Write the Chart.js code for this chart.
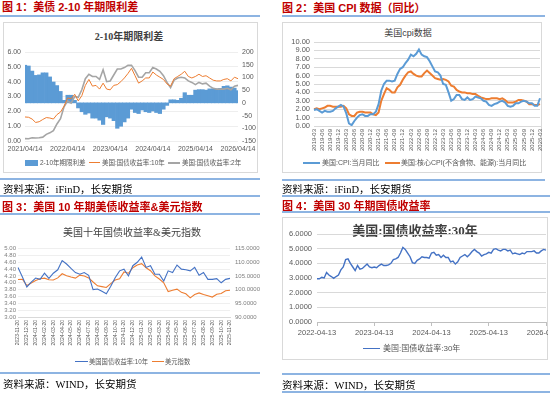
<!DOCTYPE html>
<html>
<head>
<meta charset="utf-8">
<script src="https://cdn.jsdelivr.net/npm/chart.js@4.4.1/dist/chart.umd.min.js"></script>
<style>
  body { margin: 0; width: 550px; height: 395px; position: relative; overflow: hidden; background: #fff;
         font-family: "Liberation Sans", "Noto Sans CJK SC", sans-serif; }
  .abs { position: absolute; white-space: nowrap; }
  .hd { color: #c00000; font-weight: bold; font-size: 11px; line-height: 13px; }
  .rule { height: 2px; background: #8db4e2; }
  .src { font-family: "Liberation Serif", "Noto Sans CJK SC", serif; font-size: 10.5px; line-height: 12px; color: #000; }
  .box { border: 1px solid #d9d9d9; box-sizing: border-box; }
  .ttl { color: #404040; transform: translateX(-50%); line-height: 12px; }
  .lg { color: #595959; line-height: 8px; }
  .sw { position: absolute; }
  canvas { position: absolute; }
</style>
</head>
<body>

<!-- 图1 -->
<div class="abs hd" style="left:2px;top:1px">图 1：美债 2-10 年期限利差</div>
<div class="abs rule" style="left:0;top:15px;width:260px"></div>
<div class="abs box" style="left:3px;top:22px;width:255px;height:151px"></div>
<div class="abs ttl" style="left:129px;top:31px;font-size:10px;font-weight:bold;font-family:'Liberation Serif','Noto Sans CJK SC',serif">2-10年期限利差</div>
<canvas id="c1" width="255" height="151" style="left:3px;top:22px"></canvas>
<div class="sw" style="left:25px;top:160px;width:13px;height:6px;background:#5b9bd5"></div>
<div class="abs lg" style="left:40px;top:159px;font-size:6.5px">2-10年期限利差</div>
<div class="sw" style="left:89px;top:162px;width:11px;height:1px;background:#ed7d31"></div>
<div class="abs lg" style="left:102px;top:159px;font-size:6.5px">美国:国债收益率:10年</div>
<div class="sw" style="left:168px;top:162px;width:12px;height:2px;background:#a5a5a5"></div>
<div class="abs lg" style="left:182px;top:159px;font-size:6.5px">美国:国债收益率:2年</div>
<div class="abs rule" style="left:0;top:178px;width:260px"></div>
<div class="abs src" style="left:3px;top:184px">资料来源：iFinD，长安期货</div>
<div class="abs rule" style="left:0;top:195px;width:260px"></div>

<!-- 图3 -->
<div class="abs hd" style="left:2px;top:201px">图 3：美国 10 年期美债收益率&amp;美元指数</div>
<div class="abs rule" style="left:0;top:213px;width:260px"></div>
<div class="abs ttl" style="left:132px;top:227px;font-size:10px;font-family:'Liberation Serif','Noto Sans CJK SC',serif">美国十年国债收益率&amp;美元指数</div>
<canvas id="c3" width="262" height="110" style="left:0;top:240px"></canvas>
<div class="sw" style="left:75px;top:361px;width:13px;height:1px;background:#4472c4"></div>
<div class="abs lg" style="left:89px;top:358px;font-size:6.3px">美国国债收益率:10年</div>
<div class="sw" style="left:152px;top:361px;width:12px;height:1px;background:#ed7d31"></div>
<div class="abs lg" style="left:165px;top:358px;font-size:6.3px">美元指数</div>
<div class="abs rule" style="left:0;top:372px;width:260px"></div>
<div class="abs src" style="left:3px;top:379px">资料来源：WIND，长安期货</div>

<!-- 图2 -->
<div class="abs hd" style="left:282px;top:2px">图 2：美国 CPI 数据（同比）</div>
<div class="abs rule" style="left:282px;top:15px;width:263px"></div>
<div class="abs box" style="left:282px;top:22px;width:260px;height:151px"></div>
<div class="abs ttl" style="left:408px;top:27px;font-size:9px">美国cpi数据</div>
<canvas id="c2" width="260" height="151" style="left:282px;top:22px"></canvas>
<div class="sw" style="left:303px;top:162px;width:17px;height:2px;background:#5b9bd5"></div>
<div class="abs lg" style="left:322px;top:159px;font-size:7px">美国:CPI:当月同比</div>
<div class="sw" style="left:385px;top:162px;width:15px;height:2px;background:#ed7d31"></div>
<div class="abs lg" style="left:401px;top:159px;font-size:7px">美国:核心CPI(不含食物、能源):当月同比</div>
<div class="abs rule" style="left:282px;top:179px;width:263px"></div>
<div class="abs src" style="left:282px;top:184px">资料来源：iFinD，长安期货</div>
<div class="abs rule" style="left:282px;top:195px;width:268px"></div>

<!-- 图4 -->
<div class="abs hd" style="left:282px;top:200px">图 4：美国 30 年期国债收益率</div>
<div class="abs rule" style="left:282px;top:211px;width:268px"></div>
<div class="abs box" style="left:282px;top:217px;width:266px;height:143px"></div>
<div class="abs ttl" style="left:415px;top:223px;font-size:13px;line-height:15px;font-weight:bold;font-family:'Liberation Serif','Noto Sans CJK SC',serif">美国:国债收益率:30年</div>
<canvas id="c4" width="266" height="143" style="left:282px;top:217px"></canvas>
<div class="sw" style="left:363px;top:348px;width:17px;height:1px;background:#4472c4"></div>
<div class="abs lg" style="left:383px;top:344px;font-size:8px;line-height:9px">美国:国债收益率:30年</div>
<div class="abs rule" style="left:282px;top:373px;width:268px"></div>
<div class="abs src" style="left:282px;top:380px">资料来源：WIND，长安期货</div>
<div class="abs rule" style="left:282px;top:391px;width:268px"></div>

<script>
// ---- 图1: 2-10 spread, monthly 2021-04 .. 2026-04 ----
const ticks1 = ['2021/04/14', '2022/04/14', '2023/04/14', '2024/04/14', '2025/04/14', '2026/04/14'];
const ust10y = [1.62, 1.60, 1.48, 1.25, 1.30, 1.45, 1.58, 1.55, 1.48, 1.78, 1.95, 2.35,
  2.90, 2.85, 3.15, 2.70, 3.05, 3.75, 4.15, 3.70, 3.75, 3.50, 3.90, 3.50,
  3.45, 3.75, 3.80, 4.00, 4.25, 4.55, 4.90, 4.40, 3.90, 4.05, 4.25, 4.25,
  4.65, 4.45, 4.30, 4.15, 3.85, 3.70, 4.20, 4.35, 4.50, 4.70, 4.35, 4.25,
  4.35, 4.50, 4.35, 4.40, 4.25, 4.10, 4.05, 4.05, 4.15, 4.20, 4.05, 4.30, 4.20];
const ust2y = [0.16, 0.15, 0.22, 0.20, 0.22, 0.26, 0.45, 0.55, 0.70, 1.15, 1.50, 2.30,
  2.70, 2.55, 3.00, 2.95, 3.45, 4.20, 4.50, 4.35, 4.35, 4.15, 4.80, 4.00,
  4.05, 4.45, 4.85, 4.85, 4.95, 5.10, 5.10, 4.75, 4.30, 4.30, 4.60, 4.60,
  4.95, 4.85, 4.70, 4.40, 3.95, 3.60, 4.10, 4.25, 4.30, 4.25, 4.05, 3.95,
  3.80, 3.95, 3.85, 3.90, 3.70, 3.55, 3.50, 3.50, 3.50, 3.55, 3.45, 3.70, 3.75];
const spread = [148, 145, 125, 108, 110, 118, 118, 102, 82, 68, 45, 10,
  30, 30, 10, -20, -35, -45, -40, -60, -60, -68, -85, -55,
  -60, -70, -100, -92, -75, -60, -25, -38, -42, -28, -35, -38,
  -32, -38, -42, -25, -10, 12, 12, 10, 18, 40, 30, 30,
  50, 52, 52, 50, 55, 55, 55, 57, 65, 67, 62, 58, 48];

// ---- 图2: CPI YoY, monthly 2019-03 .. 2026-03 ----
const cpi = [1.9, 2.0, 1.8, 1.6, 1.8, 1.7, 1.7, 1.8, 2.1, 2.3,
  2.5, 2.3, 1.5, 0.3, 0.1, 0.6, 1.0, 1.3, 1.4, 1.2, 1.2, 1.4,
  1.4, 1.7, 2.6, 4.2, 5.0, 5.4, 5.4, 5.3, 5.4, 6.2, 6.8, 7.0,
  7.5, 7.9, 8.5, 8.3, 8.6, 9.1, 8.5, 8.3, 8.2, 7.7, 7.1, 6.5,
  6.4, 6.0, 5.0, 4.9, 4.0, 3.0, 3.2, 3.7, 3.7, 3.2, 3.1, 3.4,
  3.1, 3.2, 3.5, 3.4, 3.3, 3.0, 2.9, 2.5, 2.4, 2.6, 2.7, 2.9,
  3.0, 2.8, 2.4, 2.3, 2.4, 2.7, 2.7, 2.9, 3.0, 2.9, 2.7, 2.7,
  2.4, 2.4, 3.3];
const coreCpi = [2.0, 2.1, 2.0, 2.1, 2.2, 2.4, 2.4, 2.3, 2.3, 2.3,
  2.3, 2.4, 2.1, 1.4, 1.2, 1.2, 1.6, 1.7, 1.7, 1.6, 1.6, 1.6,
  1.4, 1.3, 1.6, 3.0, 3.8, 4.5, 4.3, 4.0, 4.0, 4.6, 4.9, 5.5,
  6.0, 6.4, 6.5, 6.2, 6.0, 5.9, 5.9, 6.3, 6.6, 6.3, 6.0, 5.7,
  5.6, 5.5, 5.6, 5.5, 5.3, 4.8, 4.7, 4.3, 4.1, 4.0, 4.0, 3.9,
  3.9, 3.8, 3.8, 3.6, 3.4, 3.3, 3.2, 3.2, 3.3, 3.3, 3.3, 3.2,
  3.3, 3.1, 2.8, 2.8, 2.8, 2.9, 3.1, 3.1, 3.0, 2.9, 2.6, 2.6,
  2.5, 2.5, 2.6];

// ---- 图3: 10y yield & DXY, half-monthly 2023-11-20 .. 2025-11-20 ----
const ticks3 = ['2023-11-20', '2023-12-20', '2024-01-20', '2024-02-20', '2024-03-20', '2024-04-20',
  '2024-05-20', '2024-06-20', '2024-07-20', '2024-08-20', '2024-09-20', '2024-10-20', '2024-11-20',
  '2024-12-20', '2025-01-20', '2025-02-20', '2025-03-20', '2025-04-20', '2025-05-20', '2025-06-20',
  '2025-07-20', '2025-08-20', '2025-09-20', '2025-10-20', '2025-11-20'];
const ust10b = [4.45, 4.17, 3.88, 4.02, 4.14, 4.10, 4.28, 4.13, 4.28, 4.38, 4.65, 4.55,
  4.42, 4.30, 4.25, 4.30, 4.22, 3.80, 3.82, 3.75, 3.68, 3.90, 4.15, 4.35,
  4.40, 4.20, 4.50, 4.60, 4.75, 4.45, 4.50, 4.25, 4.25, 4.05, 4.35, 4.30,
  4.52, 4.40, 4.38, 4.35, 4.45, 4.22, 4.30, 4.10, 4.10, 4.12, 4.00, 4.10, 4.13];
const dxy = [103.7, 103.8, 101.5, 102.4, 103.3, 104.0, 104.2, 103.6, 103.5, 104.3, 105.8, 105.1,
  104.6, 104.2, 105.3, 105.0, 104.3, 102.8, 101.4, 101.1, 100.8, 102.2, 103.5, 104.0,
  106.5, 106.0, 108.0, 109.0, 109.5, 108.0, 106.9, 105.0, 103.9, 102.5, 99.3, 99.8,
  100.2, 99.0, 98.5, 97.0, 98.2, 98.8, 98.2, 97.8, 97.3, 98.3, 98.6, 99.6, 99.8];

// ---- 图4: 30y yield, half-monthly 2022-04-13 .. 2026-04-13 ----
const ticks4 = ['2022-04-13', '2023-04-13', '2024-04-13', '2025-04-13', '2026-04-13'];
const ust30 = [2.95, 2.95, 3.05, 3.00, 3.38, 3.20, 3.10, 2.98, 3.10, 3.20, 3.55, 3.75,
  4.25, 4.30, 4.00, 3.75, 3.50, 3.85, 3.60, 3.65, 3.80, 3.95, 3.75, 3.70,
  3.75, 3.70, 3.85, 3.95, 3.85, 3.85, 3.90, 4.00, 4.25, 4.30, 4.40, 4.70,
  5.08, 4.95, 4.70, 4.45, 4.05, 4.00, 4.20, 4.30, 4.45, 4.40, 4.40, 4.35,
  4.70, 4.75, 4.55, 4.60, 4.40, 4.55, 4.40, 4.40, 4.10, 4.15, 3.95, 4.10,
  4.40, 4.50, 4.60, 4.45, 4.60, 4.80, 4.95, 4.80, 4.70, 4.50, 4.60, 4.65,
  4.75, 4.70, 4.95, 5.00, 4.90, 4.85, 4.95, 4.95, 4.85, 4.90, 4.65, 4.70,
  4.65, 4.60, 4.70, 4.65, 4.80, 4.80, 4.80, 4.85, 4.70, 4.70, 4.85, 4.95, 4.90];

const F = '"Liberation Sans", "Noto Sans CJK SC", sans-serif';
const TICK = '#595959';

function monthList(y, m, n) {
  const out = [];
  for (let i = 0; i < n; i++) {
    out.push(y + '-' + String(m).padStart(2, '0'));
    m++; if (m > 12) { m = 1; y++; }
  }
  return out;
}

Chart.defaults.animation = false;
Chart.defaults.responsive = false;
Chart.defaults.devicePixelRatio = 1;
Chart.defaults.plugins.legend.display = false;
Chart.defaults.plugins.tooltip.enabled = false;
Chart.defaults.elements.point.radius = 0;
Chart.defaults.elements.line.tension = 0;

const noPad = s => { s.paddingLeft = 0; s.paddingRight = 0; };

// chart 1
new Chart(document.getElementById('c1'), {
  type: 'bar',
  data: {
    labels: monthList(2021, 4, 61),
    datasets: [
      { type: 'line', data: ust10y, yAxisID: 'y', borderColor: '#ed7d31', borderWidth: 1, order: 1 },
      { type: 'line', data: ust2y, yAxisID: 'y', borderColor: '#a5a5a5', borderWidth: 1.6, order: 2 },
      { type: 'bar', data: spread, yAxisID: 'y1', backgroundColor: '#5b9bd5', barPercentage: 1, categoryPercentage: 1, order: 3 }
    ]
  },
  options: {
    layout: { padding: { top: 30 } },
    scales: {
      x: {
        offset: false,
        grid: { display: false, drawTicks: false },
        border: { display: false },
        ticks: { autoSkip: false, maxRotation: 0, minRotation: 0, padding: 4, color: TICK, font: { size: 7, family: F },
                 callback: (v, i) => i % 12 === 0 ? ticks1[i / 12] : '' },
        afterFit: s => { s.height = 32; noPad(s); }
      },
      y: {
        min: 0, max: 6,
        ticks: { stepSize: 1, autoSkip: false, padding: 4, color: TICK, font: { size: 7, family: F }, callback: v => v.toFixed(2) },
        grid: { color: '#eeeeee', drawTicks: false }, border: { display: false },
        afterFit: s => { s.width = 22; }
      },
      y1: {
        position: 'right', min: -150, max: 200,
        ticks: { stepSize: 50, autoSkip: false, padding: 4, color: TICK, font: { size: 7, family: F } },
        grid: { display: false, drawTicks: false }, border: { display: false },
        afterFit: s => { s.width = 20; }
      }
    }
  }
});

// chart 2
const months2 = monthList(2019, 3, 85);
new Chart(document.getElementById('c2'), {
  type: 'line',
  data: {
    labels: months2,
    datasets: [
      { data: cpi, borderColor: '#5b9bd5', borderWidth: 2 },
      { data: coreCpi, borderColor: '#ed7d31', borderWidth: 2 }
    ]
  },
  options: {
    layout: { padding: { top: 20, right: 2 } },
    scales: {
      x: {
        grid: { display: false, drawTicks: false },
        border: { color: '#d9d9d9' },
        ticks: { autoSkip: false, maxRotation: 90, minRotation: 90, padding: 3, color: TICK, font: { size: 6, family: F },
                 callback: (v, i) => i % 3 === 0 ? months2[i] : '' },
        afterFit: s => { s.height = 47; noPad(s); }
      },
      y: {
        min: 0, max: 10,
        ticks: { stepSize: 1, autoSkip: false, padding: 4, color: TICK, font: { size: 7.5, family: F }, callback: v => v.toFixed(2) },
        grid: { color: '#d9d9d9', drawTicks: false }, border: { display: false },
        afterFit: s => { s.width = 32; }
      }
    }
  }
});

// chart 3
new Chart(document.getElementById('c3'), {
  type: 'line',
  data: {
    labels: ust10b.map((_, i) => i),
    datasets: [
      { data: ust10b, yAxisID: 'y', borderColor: '#4472c4', borderWidth: 1.1 },
      { data: dxy, yAxisID: 'y1', borderColor: '#ed7d31', borderWidth: 1.1 }
    ]
  },
  options: {
    layout: { padding: { top: 8 } },
    scales: {
      x: {
        grid: { display: false, drawTicks: false },
        border: { color: '#d9d9d9' },
        ticks: { autoSkip: false, maxRotation: 90, minRotation: 90, padding: 3, color: TICK, font: { size: 5, family: F },
                 callback: (v, i) => i % 2 === 0 ? ticks3[i / 2] : '' },
        afterFit: s => { s.height = 33; noPad(s); }
      },
      y: {
        min: 3, max: 5,
        ticks: { stepSize: 0.2, autoSkip: false, padding: 2, color: '#7f7f7f', font: { size: 6, family: F }, callback: v => v.toFixed(2) },
        grid: { color: '#efefef', drawTicks: false }, border: { display: false },
        afterFit: s => { s.width = 18; }
      },
      y1: {
        position: 'right', min: 90, max: 115,
        ticks: { stepSize: 5, autoSkip: false, padding: 5, color: '#7f7f7f', font: { size: 6, family: F }, callback: v => v.toFixed(4) },
        grid: { display: false, drawTicks: false }, border: { display: false },
        afterFit: s => { s.width = 32; }
      }
    }
  }
});

// chart 4
new Chart(document.getElementById('c4'), {
  type: 'line',
  data: {
    labels: ust30.map((_, i) => i),
    datasets: [{ data: ust30, borderColor: '#4472c4', borderWidth: 1.4 }]
  },
  options: {
    layout: { padding: { top: 17, right: 2 } },
    scales: {
      x: {
        grid: { drawOnChartArea: false, drawTicks: true, tickLength: 4,
                color: c => c.index % 24 === 0 ? '#bfbfbf' : 'rgba(0,0,0,0)' },
        border: { color: '#bfbfbf' },
        ticks: { autoSkip: false, maxRotation: 0, minRotation: 0, padding: 2, color: TICK, font: { size: 7.5, family: F },
                 callback: (v, i) => i % 24 === 0 ? ticks4[i / 24] : '' },
        afterFit: s => { s.height = 38; noPad(s); }
      },
      y: {
        min: 0, max: 6,
        ticks: { stepSize: 1, autoSkip: false, padding: 5, color: TICK, font: { size: 7.5, family: F }, callback: v => v.toFixed(4) },
        grid: { color: '#d9d9d9', drawTicks: false }, border: { display: false },
        afterFit: s => { s.width = 35; }
      }
    }
  }
});
</script>
</body>
</html>
